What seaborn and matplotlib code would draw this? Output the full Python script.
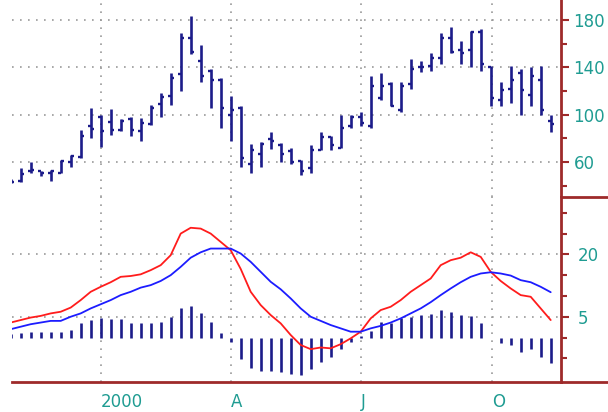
import numpy as np
import pandas as pd
import matplotlib.pyplot as plt
import seaborn as sns

sns.set_theme(style="white")
plt.rcParams["font.family"] = ["DejaVu Sans"]

# weekly bars, end of Oct 1999 to mid Nov 2000
weeks = pd.date_range("1999-10-30", periods=55, freq="7D").to_pydatetime()

opens = [44, 44, 52, 52, 51, 51, 60, 64, 90, 98,
         94, 87, 96, 86, 92, 109, 116, 134, 165, 145,
         137, 129, 100, 106, 58, 67, 79, 74, 69, 61,
         55, 70, 81, 72, 90, 98, 90, 114, 126, 104,
         126, 140, 141, 148, 165, 155, 155, 170, 140, 112,
         122, 135, 117, 129, 95]
highs = [46, 55, 60, 52, 53, 62, 66, 87, 106, 100,
         105, 96, 98, 97, 108, 118, 135, 169, 183, 159,
         139, 131, 116, 107, 75, 77, 85, 76, 72, 62,
         74, 85, 82, 100, 100, 102, 133, 135, 128, 128,
         147, 145, 152, 169, 174, 162, 171, 172, 141, 128,
         141, 139, 140, 141, 100]
lows = [42, 43, 51, 48, 44, 51, 56, 63, 80, 73,
        83, 86, 82, 78, 91, 98, 108, 120, 151, 128,
        106, 89, 78, 56, 51, 56, 71, 60, 58, 49,
        51, 70, 70, 72, 89, 90, 89, 112, 107, 102,
        122, 136, 137, 143, 152, 143, 140, 137, 107, 107,
        110, 100, 107, 100, 85]
closes = [43, 50, 53, 51, 52, 61, 65, 82, 88, 86,
          87, 95, 87, 93, 106, 115, 131, 165, 153, 133,
          129, 106, 104, 63, 70, 75, 78, 67, 60, 52,
          70, 81, 74, 89, 98, 93, 124, 124, 107, 124,
          139, 140, 148, 165, 153, 152, 170, 143, 114, 121,
          129, 121, 133, 104, 92]

macd = [3.6, 4.2, 4.8, 5.2, 5.8, 6.2, 7.2, 9.0, 11.0, 12.2,
        13.3, 14.6, 14.8, 15.2, 16.2, 17.4, 19.8, 25.0, 26.4, 26.2,
        25.0, 23.0, 21.0, 16.5, 11.0, 7.8, 5.4, 3.4, 0.6, -1.8,
        -2.8, -2.4, -2.6, -1.6, -0.2, 1.4, 4.6, 6.6, 7.4, 9.0,
        11.0, 12.6, 14.2, 17.4, 18.6, 19.2, 20.5, 19.4, 15.8, 13.6,
        11.8, 10.2, 9.8, 7.0, 4.2]
signal = [2.0, 2.6, 3.2, 3.6, 4.0, 4.0, 5.0, 5.8, 7.0, 8.0,
          9.0, 10.2, 11.0, 12.0, 12.6, 13.6, 15.0, 17.0, 19.2, 20.5,
          21.4, 21.4, 21.4, 20.2, 18.2, 15.8, 13.4, 11.6, 9.4, 7.0,
          5.0, 4.0, 3.0, 2.2, 1.4, 1.4, 2.2, 2.8, 3.6, 4.6,
          5.8, 7.0, 8.5, 10.2, 11.8, 13.3, 14.6, 15.4, 15.7, 15.4,
          14.9, 13.8, 13.3, 12.2, 10.9]
hist = [0.8, 1.0, 1.4, 1.4, 1.4, 1.4, 1.8, 3.4, 4.2, 4.6,
        4.4, 4.4, 3.4, 3.4, 3.4, 3.8, 5.0, 7.2, 7.6, 5.8,
        3.8, 1.0, -1.0, -5.2, -7.3, -8.1, -8.1, -8.4, -8.8, -9.0,
        -7.6, -5.8, -4.8, -2.8, -1.0, 0.3, 1.6, 3.8, 3.6, 4.6,
        5.0, 5.4, 5.6, 6.6, 6.2, 5.4, 5.2, 3.4, 0.0, -1.4,
        -1.8, -3.4, -2.8, -4.6, -6.2]

quarter_ticks = pd.to_datetime(["2000-01-01", "2000-04-01", "2000-07-01", "2000-10-01"]).to_pydatetime()
quarter_labels = ["2000", "A", "J", "O"]

price_major = [60, 100, 140, 180]
price_minor = [40, 80, 120, 160]
macd_major = [5, 20]
macd_minor = [-5, 0, 10, 15, 25, 30]

bar_color = "#1c1c8a"
axis_red = "#9e2a2a"
label_teal = "#1f9c92"
grid_kw = dict(color="#9a9a9a", linestyle=(0, (1, 3.8)), linewidth=1.2)

fig = plt.figure(figsize=(6.08, 4.12), dpi=100)
ax1 = fig.add_axes([12 / 608, 215 / 412, 549 / 608, 197 / 412])
ax2 = fig.add_axes([12 / 608, 30 / 412, 549 / 608, 185 / 412], sharex=ax1)

# price bars
ax1.vlines(weeks, lows, highs, color=bar_color, linewidth=1.9)
ax1.plot(weeks, opens, linestyle="none", marker=0, markersize=2.3, markeredgewidth=1.7, color=bar_color)
ax1.plot(weeks, closes, linestyle="none", marker=1, markersize=2.3, markeredgewidth=1.7, color=bar_color)

# macd panel
ax2.vlines(weeks, 0, hist, color=bar_color, linewidth=1.9)
df = pd.DataFrame({"week": weeks, "MACD": macd, "Signal": signal})
sns.lineplot(data=df, x="week", y="MACD", color="#ff1c1c", linewidth=1.3, ax=ax2)
sns.lineplot(data=df, x="week", y="Signal", color="#1c1cff", linewidth=1.3, ax=ax2)

ax1.set_xlim(pd.Timestamp("1999-10-30 22:00"), pd.Timestamp("2000-11-18 05:00"))
ax1.set_ylim(30.4, 196.9)
ax2.set_ylim(-10.7, 33.8)

for ax, major, minor, pad in [(ax1, price_major, price_minor, 3), (ax2, macd_major, macd_minor, 6)]:
    ax.set_xlabel("")
    ax.set_ylabel("")
    ax.set_axisbelow(True)
    ax.yaxis.tick_right()
    ax.set_yticks(major)
    ax.set_yticks(minor, minor=True)
    ax.set_xticks(quarter_ticks)
    ax.grid(False)
    ax.xaxis.grid(True, **grid_kw)
    ax.yaxis.grid(True, which="major", **grid_kw)
    ax.tick_params(axis="y", which="major", length=6, width=1.5, color=axis_red,
                   labelcolor=label_teal, labelsize=12, pad=pad)
    ax.tick_params(axis="y", which="minor", length=4, width=1.5, color=axis_red, right=True)
    for side in ["top", "left", "bottom"]:
        ax.spines[side].set_visible(False)
    ax.spines["right"].set_color(axis_red)
    ax.spines["right"].set_linewidth(2)

ax1.tick_params(axis="x", bottom=False, labelbottom=False)

ax2.spines["bottom"].set_visible(True)
ax2.spines["bottom"].set_color(axis_red)
ax2.spines["bottom"].set_linewidth(2)
ax2.set_xticklabels(quarter_labels, ha="left")
ax2.tick_params(axis="x", length=8, width=1.5, color=axis_red, labelcolor=label_teal,
                labelsize=12, pad=0)

# frame lines running past the right axis
ext = 1 + 47 / 549
ax2.plot([1, ext], [0, 0], transform=ax2.transAxes, clip_on=False, color=axis_red, linewidth=2)
ax2.plot([1, ext], [1, 1], transform=ax2.transAxes, clip_on=False, color=axis_red, linewidth=2)

fig.savefig("out.png", dpi=100)
